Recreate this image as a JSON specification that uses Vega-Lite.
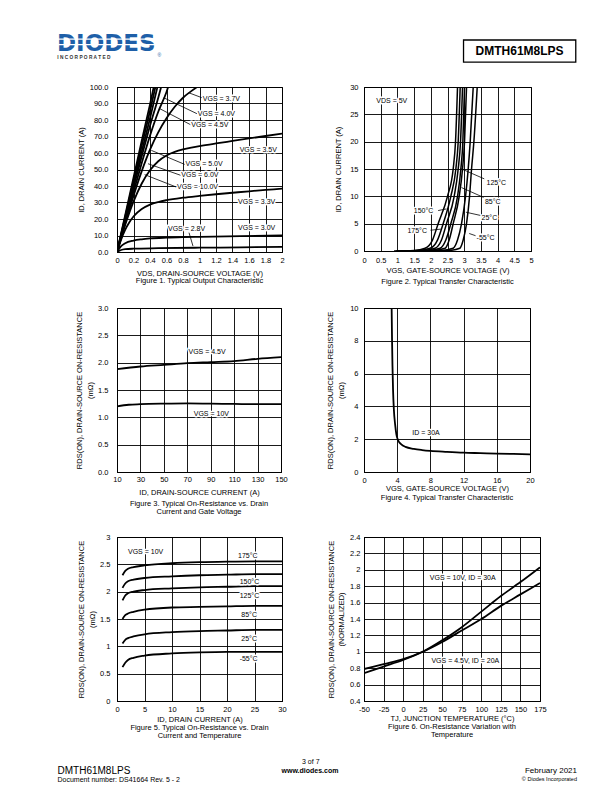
{
"$schema":"https://vega.github.io/schema/vega-lite/v6.json",
"background":"white",
"padding":0,
"autosize":{"type":"pad"},
"bounds":"flush",
"align":"each",
"columns":2,
"spacing":{"row":0,"column":82},
"config":{
 "font":"Liberation Sans",
 "view":{"stroke":null},
 "axis":{"grid":true,"gridColor":"#000","gridOpacity":1,"gridWidth":0.9,"domain":true,"domainColor":"#000","domainWidth":1,"ticks":false,"labelFont":"Liberation Sans","labelFontSize":7.5,"labelColor":"#000","labelPadding":4.5,"labelFlush":false,"labelOverlap":false,"labelBound":false,"titleFont":"Liberation Sans","titleFontSize":7.5,"titleFontWeight":"normal","titleColor":"#000","titleLineHeight":10.7},
 "title":{"font":"Liberation Sans","fontSize":7.5,"fontWeight":"normal","color":"#000","orient":"bottom","anchor":"middle","frame":"group","lineHeight":8}
},
"datasets":{
 "lab1":[
  {"x":1.04,"y":93,"t":"VGS = 3.7V"},
  {"x":0.98,"y":83.8,"t":"VGS = 4.0V"},
  {"x":0.90,"y":77.2,"t":"VGS = 4.5V"},
  {"x":1.487,"y":61.6,"t":"VGS = 3.5V"},
  {"x":0.83,"y":53.1,"t":"VGS = 5.0V"},
  {"x":0.78,"y":46.5,"t":"VGS = 6.0V"},
  {"x":0.727,"y":39.4,"t":"VGS = 10.0V"},
  {"x":1.467,"y":30.3,"t":"VGS = 3.3V"},
  {"x":0.618,"y":14.1,"t":"VGS = 2.8V"},
  {"x":1.467,"y":14.5,"t":"VGS = 3.0V"}
 ],
 "lab2":[
  {"x":0.37,"y":27.4,"t":"VDS = 5V"},
  {"x":3.67,"y":12.4,"t":"125°C"},
  {"x":3.62,"y":9.0,"t":"85°C"},
  {"x":3.52,"y":6.1,"t":"25°C"},
  {"x":3.37,"y":2.4,"t":"-55°C"},
  {"x":1.49,"y":7.3,"t":"150°C"},
  {"x":1.3,"y":3.6,"t":"175°C"}
 ],
 "lab3":[
  {"x":71,"y":2.19,"t":"VGS = 4.5V"},
  {"x":75.5,"y":1.06,"t":"VGS = 10V"}
 ],
 "lab4":[
  {"x":5.82,"y":2.4,"t":"ID = 30A"}
 ],
 "lab5":[
  {"x":2.0,"y":2.73,"t":"VGS = 10V"},
  {"x":22.0,"y":2.65,"t":"175°C"},
  {"x":22.3,"y":2.18,"t":"150°C"},
  {"x":22.3,"y":1.92,"t":"125°C"},
  {"x":22.6,"y":1.57,"t":"85°C"},
  {"x":22.6,"y":1.14,"t":"25°C"},
  {"x":22.3,"y":0.76,"t":"-55°C"}
 ],
 "lab6":[
  {"x":34.1,"y":1.9,"t":"VGS = 10V, ID = 30A"},
  {"x":36.2,"y":0.89,"t":"VGS = 4.5V, ID = 20A"}
 ]
},
"concat":[
 {"width":165,"height":87,
  "encoding":{"x":{"field":"px","type":"quantitative","scale":{"domain":[0.191176,0.460784],"nice":false,"zero":false},"axis":null},"y":{"field":"py","type":"quantitative","scale":{"domain":[0,1],"nice":false,"zero":false,"reverse":true},"axis":null}},
  "layer":[
   {"data":{"values":[{"px":0,"py":0,"px2":1,"py2":1}]},"mark":{"type":"rect","fill":"white"},"encoding":{"x2":{"field":"px2"},"y2":{"field":"py2"}}},
   {"data":{"values":[{"px":0.0931,"py":0.586,"t":"DIODES"}]},"mark":{"type":"text","font":"DejaVu Sans","fontWeight":"bold","fontSize":23,"fill":"#1e5fa8","align":"left","baseline":"alphabetic"},"encoding":{"text":{"field":"t"}}},
   {"data":{"values":[{"px":0.0925,"py":0.449,"px2":0.2555},{"px":0.0925,"py":0.513,"px2":0.2555}]},"mark":{"type":"rule","stroke":"white","strokeWidth":1.2},"encoding":{"x2":{"field":"px2"}}},
   {"data":{"values":[{"px":0.0936,"py":0.667,"t":"I    N    C    O    R    P    O    R    A    T    E    D"}]},"mark":{"type":"text","fontWeight":"bold","fontSize":4.8,"fill":"#333","align":"left","baseline":"middle"},"encoding":{"text":{"field":"t"}}},
   {"data":{"values":[{"px":0.2574,"py":0.629,"t":"®"}]},"mark":{"type":"text","fontSize":5,"fill":"#1e5fa8","align":"left","baseline":"middle"},"encoding":{"text":{"field":"t"}}},
   {"data":{"values":[{"px":0.7574,"py":0.4598,"px2":0.9408,"py2":0.7149}]},"mark":{"type":"rect","fill":null,"stroke":"#000","strokeWidth":1.3},"encoding":{"x2":{"field":"px2"},"y2":{"field":"py2"}}},
   {"data":{"values":[{"px":0.849,"py":0.5897,"t":"DMTH61M8LPS"}]},"mark":{"type":"text","fontWeight":"bold","fontSize":12,"fill":"#000","align":"center","baseline":"middle"},"encoding":{"text":{"field":"t"}}}
  ]},
 {"width":1,"height":1,"mark":"point","data":{"values":[]}},
 {"width":165,"height":165,"view":{"stroke":"#000","strokeWidth":1},
  "title":{"text":"Figure 1. Typical Output Characteristic","offset":0.75},
  "encoding":{
   "x":{"field":"x","type":"quantitative","scale":{"domain":[0,2],"nice":false,"zero":false},"axis":{"title":"VDS, DRAIN-SOURCE VOLTAGE (V)","values":[0,0.2,0.4,0.6,0.8,1,1.2,1.4,1.6,1.8,2],"labelExpr":"'' + datum.value","labelPadding":4.5,"titlePadding":5.2}},
   "y":{"field":"y","type":"quantitative","scale":{"domain":[0,100],"nice":false,"zero":false},"axis":{"title":"ID, DRAIN CURRENT (A)","values":[0,10,20,30,40,50,60,70,80,90,100],"format":".1f","labelPadding":9,"titlePadding":4}}
  },
  "layer":[
   {"data":{"values":[
     {"s":"10","x":0,"y":0},{"s":"10","x":0.1,"y":22.5},{"s":"10","x":0.2,"y":45},{"s":"10","x":0.3,"y":67.5},{"s":"10","x":0.4,"y":89.5},{"s":"10","x":0.445,"y":100},
     {"s":"6","x":0,"y":0},{"s":"6","x":0.1,"y":21.5},{"s":"6","x":0.2,"y":43},{"s":"6","x":0.3,"y":64.5},{"s":"6","x":0.4,"y":85.5},{"s":"6","x":0.465,"y":100},
     {"s":"5","x":0,"y":0},{"s":"5","x":0.1,"y":20.5},{"s":"5","x":0.2,"y":41},{"s":"5","x":0.3,"y":61},{"s":"5","x":0.4,"y":81},{"s":"5","x":0.49,"y":100},
     {"s":"4.5","x":0,"y":0},{"s":"4.5","x":0.1,"y":19.5},{"s":"4.5","x":0.2,"y":39},{"s":"4.5","x":0.3,"y":58},{"s":"4.5","x":0.4,"y":76.5},{"s":"4.5","x":0.5,"y":93.5},{"s":"4.5","x":0.535,"y":100},
     {"s":"4","x":0,"y":0},{"s":"4","x":0.1,"y":18.5},{"s":"4","x":0.2,"y":36.5},{"s":"4","x":0.3,"y":54},{"s":"4","x":0.4,"y":70.5},{"s":"4","x":0.5,"y":85},{"s":"4","x":0.6,"y":97},{"s":"4","x":0.62,"y":100},
     {"s":"3.7","x":0,"y":0},{"s":"3.7","x":0.1,"y":17.5},{"s":"3.7","x":0.2,"y":34},{"s":"3.7","x":0.3,"y":49},{"s":"3.7","x":0.4,"y":62},{"s":"3.7","x":0.5,"y":72.5},{"s":"3.7","x":0.6,"y":81},{"s":"3.7","x":0.7,"y":88},{"s":"3.7","x":0.8,"y":93.5},{"s":"3.7","x":0.9,"y":97.5},{"s":"3.7","x":0.97,"y":100},
     {"s":"3.5","x":0,"y":0},{"s":"3.5","x":0.1,"y":16.5},{"s":"3.5","x":0.2,"y":30.5},{"s":"3.5","x":0.3,"y":41.5},{"s":"3.5","x":0.4,"y":49.5},{"s":"3.5","x":0.5,"y":55},{"s":"3.5","x":0.6,"y":58.5},{"s":"3.5","x":0.7,"y":60.7},{"s":"3.5","x":0.8,"y":62.2},{"s":"3.5","x":0.9,"y":63.3},{"s":"3.5","x":1.0,"y":64.2},{"s":"3.5","x":1.2,"y":65.8},{"s":"3.5","x":1.4,"y":67.3},{"s":"3.5","x":1.6,"y":68.8},{"s":"3.5","x":1.8,"y":70.3},{"s":"3.5","x":2,"y":71.8},
     {"s":"3.3","x":0,"y":0},{"s":"3.3","x":0.05,"y":7.5},{"s":"3.3","x":0.1,"y":13.5},{"s":"3.3","x":0.15,"y":18},{"s":"3.3","x":0.2,"y":21.5},{"s":"3.3","x":0.3,"y":26},{"s":"3.3","x":0.4,"y":28.7},{"s":"3.3","x":0.5,"y":30.3},{"s":"3.3","x":0.6,"y":31.4},{"s":"3.3","x":0.8,"y":32.9},{"s":"3.3","x":1.0,"y":34},{"s":"3.3","x":1.2,"y":35},{"s":"3.3","x":1.4,"y":35.9},{"s":"3.3","x":1.6,"y":36.8},{"s":"3.3","x":1.8,"y":37.6},{"s":"3.3","x":2,"y":38.4},
     {"s":"3.0","x":0,"y":0},{"s":"3.0","x":0.05,"y":3.5},{"s":"3.0","x":0.1,"y":5.3},{"s":"3.0","x":0.2,"y":6.9},{"s":"3.0","x":0.3,"y":7.7},{"s":"3.0","x":0.4,"y":8.2},{"s":"3.0","x":0.6,"y":8.7},{"s":"3.0","x":0.8,"y":9},{"s":"3.0","x":1.0,"y":9.2},{"s":"3.0","x":1.5,"y":9.6},{"s":"3.0","x":2,"y":10},
     {"s":"2.8","x":0,"y":0},{"s":"2.8","x":0.05,"y":1.2},{"s":"2.8","x":0.1,"y":1.7},{"s":"2.8","x":0.2,"y":2.0},{"s":"2.8","x":0.5,"y":2.3},{"s":"2.8","x":1,"y":2.6},{"s":"2.8","x":1.5,"y":2.8},{"s":"2.8","x":2,"y":3.1}
    ]},
    "mark":{"type":"line","color":"#000","strokeWidth":1.8,"interpolate":"monotone","clip":true},
    "encoding":{"detail":{"field":"s"}}},
   {"data":{"values":[
     {"x":1.03,"y":93.5,"x2":0.87,"y2":96.5},
     {"x":0.97,"y":83.8,"x2":0.566,"y2":93.5},
     {"x":0.89,"y":77.2,"x2":0.517,"y2":86.9},
     {"x":0.82,"y":53.1,"x2":0.416,"y2":61.6},
     {"x":0.77,"y":46.5,"x2":0.376,"y2":53.5},
     {"x":0.717,"y":39.4,"x2":0.335,"y2":46.9},
     {"x":0.873,"y":11.7,"x2":0.921,"y2":3.6}
    ]},
    "mark":{"type":"rule","color":"#000","strokeWidth":0.8},
    "encoding":{"x2":{"field":"x2"},"y2":{"field":"y2"}}},
   {"data":{"name":"lab1"},
    "mark":{"type":"text","align":"left","baseline":"middle","fontSize":7,"fill":"#fff","stroke":"#fff","strokeWidth":3,"strokeJoin":"round"},
    "encoding":{"text":{"field":"t"}}},
   {"data":{"name":"lab1"},
    "mark":{"type":"text","align":"left","baseline":"middle","fontSize":7,"fill":"#000"},
    "encoding":{"text":{"field":"t"}}}
  ]},
 {"width":167,"height":164,"view":{"stroke":"#000","strokeWidth":1},
  "title":{"text":"Figure 2. Typical Transfer Characteristic","offset":3.5},
  "encoding":{
   "x":{"field":"x","type":"quantitative","scale":{"domain":[0,5],"nice":false,"zero":false},"axis":{"title":"VGS, GATE-SOURCE VOLTAGE (V)","values":[0,0.5,1,1.5,2,2.5,3,3.5,4,4.5,5],"labelExpr":"'' + datum.value","labelPadding":5.5,"titlePadding":2.5}},
   "y":{"field":"y","type":"quantitative","scale":{"domain":[0,30],"nice":false,"zero":false},"axis":{"title":"ID, DRAIN CURRENT (A)","values":[0,5,10,15,20,25,30],"labelExpr":"'' + datum.value","labelPadding":6,"titlePadding":7.5}}
  },
  "layer":[
   {"data":{"values":[
     {"s":"1","x":0.9,"y":0},{"s":"1","x":1.5,"y":0.1},{"s":"1","x":1.83,"y":0.5},{"s":"1","x":2.05,"y":2},{"s":"1","x":2.22,"y":5},{"s":"1","x":2.5,"y":10},{"s":"1","x":2.67,"y":15},{"s":"1","x":2.74,"y":20},{"s":"1","x":2.8,"y":30},
     {"s":"2","x":0.95,"y":0},{"s":"2","x":1.6,"y":0.1},{"s":"2","x":1.98,"y":0.5},{"s":"2","x":2.2,"y":2},{"s":"2","x":2.37,"y":5},{"s":"2","x":2.6,"y":10},{"s":"2","x":2.75,"y":15},{"s":"2","x":2.82,"y":20},{"s":"2","x":2.88,"y":30},
     {"s":"3","x":1.0,"y":0},{"s":"3","x":1.75,"y":0.1},{"s":"3","x":2.13,"y":0.5},{"s":"3","x":2.32,"y":2},{"s":"3","x":2.47,"y":5},{"s":"3","x":2.7,"y":10},{"s":"3","x":2.82,"y":15},{"s":"3","x":2.89,"y":20},{"s":"3","x":2.95,"y":30},
     {"s":"4","x":1.1,"y":0},{"s":"4","x":1.9,"y":0.1},{"s":"4","x":2.28,"y":0.5},{"s":"4","x":2.45,"y":2},{"s":"4","x":2.6,"y":5},{"s":"4","x":2.8,"y":10},{"s":"4","x":2.9,"y":15},{"s":"4","x":2.96,"y":20},{"s":"4","x":3.01,"y":30},
     {"s":"5","x":1.2,"y":0},{"s":"5","x":2.05,"y":0.1},{"s":"5","x":2.43,"y":0.5},{"s":"5","x":2.55,"y":2},{"s":"5","x":2.67,"y":5},{"s":"5","x":2.85,"y":10},{"s":"5","x":2.95,"y":15},{"s":"5","x":3.01,"y":20},{"s":"5","x":3.07,"y":30},
     {"s":"6","x":1.5,"y":0},{"s":"6","x":2.3,"y":0.1},{"s":"6","x":2.67,"y":0.5},{"s":"6","x":2.8,"y":2},{"s":"6","x":2.92,"y":5},{"s":"6","x":3.04,"y":10},{"s":"6","x":3.12,"y":15},{"s":"6","x":3.18,"y":20},{"s":"6","x":3.27,"y":30},
     {"s":"7","x":1.8,"y":0},{"s":"7","x":2.55,"y":0.1},{"s":"7","x":2.87,"y":0.5},{"s":"7","x":2.97,"y":2},{"s":"7","x":3.07,"y":5},{"s":"7","x":3.16,"y":10},{"s":"7","x":3.22,"y":15},{"s":"7","x":3.29,"y":20},{"s":"7","x":3.39,"y":30}
    ]},
    "mark":{"type":"line","color":"#000","strokeWidth":1.5,"interpolate":"monotone","clip":true},
    "encoding":{"detail":{"field":"s"}}},
   {"data":{"values":[
     {"x":3.6,"y":13.2,"x2":2.89,"y2":15.1},
     {"x":3.58,"y":9.8,"x2":2.92,"y2":11.6},
     {"x":3.49,"y":6.5,"x2":3.05,"y2":7.1},
     {"x":3.34,"y":2.8,"x2":3.15,"y2":3.2},
     {"x":2.22,"y":7.4,"x2":2.47,"y2":7.7},
     {"x":1.99,"y":3.8,"x2":2.3,"y2":4.0}
    ]},
    "mark":{"type":"rule","color":"#000","strokeWidth":0.8},
    "encoding":{"x2":{"field":"x2"},"y2":{"field":"y2"}}},
   {"data":{"name":"lab2"},
    "mark":{"type":"text","align":"left","baseline":"middle","fontSize":7,"fill":"#fff","stroke":"#fff","strokeWidth":3,"strokeJoin":"round"},
    "encoding":{"text":{"field":"t"}}},
   {"data":{"name":"lab2"},
    "mark":{"type":"text","align":"left","baseline":"middle","fontSize":7,"fill":"#000"},
    "encoding":{"text":{"field":"t"}}}
  ]},
 {"width":1,"height":56,"mark":"point","data":{"values":[]}},
 {"width":1,"height":1,"mark":"point","data":{"values":[]}},
 {"width":164,"height":164,"view":{"stroke":"#000","strokeWidth":1},
  "title":{"text":["Figure 3. Typical On-Resistance vs. Drain","Current and Gate Voltage"],"offset":4.3},
  "encoding":{
   "x":{"field":"x","type":"quantitative","scale":{"domain":[10,150],"nice":false,"zero":false},"axis":{"title":"ID, DRAIN-SOURCE CURRENT (A)","values":[10,30,50,70,90,110,130,150],"labelExpr":"'' + datum.value","labelPadding":3.75,"titlePadding":5.2}},
   "y":{"field":"y","type":"quantitative","scale":{"domain":[0,3],"nice":false,"zero":false},"axis":{"title":["RDS(ON), DRAIN-SOURCE ON-RESISTANCE","(mΩ)"],"values":[0,0.5,1,1.5,2,2.5,3],"format":".1f","labelPadding":9,"titlePadding":3.4}}
  },
  "layer":[
   {"data":{"values":[
     {"s":"4.5V","x":10,"y":1.88},{"s":"4.5V","x":30,"y":1.93},{"s":"4.5V","x":50,"y":1.96},{"s":"4.5V","x":70,"y":1.99},{"s":"4.5V","x":90,"y":2.01},{"s":"4.5V","x":110,"y":2.03},{"s":"4.5V","x":130,"y":2.07},{"s":"4.5V","x":150,"y":2.1},
     {"s":"10V","x":10,"y":1.2},{"s":"10V","x":20,"y":1.23},{"s":"10V","x":30,"y":1.24},{"s":"10V","x":50,"y":1.25},{"s":"10V","x":70,"y":1.255},{"s":"10V","x":90,"y":1.25},{"s":"10V","x":110,"y":1.245},{"s":"10V","x":130,"y":1.24},{"s":"10V","x":150,"y":1.24}
    ]},
    "mark":{"type":"line","color":"#000","strokeWidth":1.8,"interpolate":"monotone","clip":true},
    "encoding":{"detail":{"field":"s"}}},
   {"data":{"name":"lab3"},
    "mark":{"type":"text","align":"left","baseline":"middle","fontSize":7,"fill":"#fff","stroke":"#fff","strokeWidth":3,"strokeJoin":"round"},
    "encoding":{"text":{"field":"t"}}},
   {"data":{"name":"lab3"},
    "mark":{"type":"text","align":"left","baseline":"middle","fontSize":7,"fill":"#000"},
    "encoding":{"text":{"field":"t"}}}
  ]},
 {"width":166,"height":164,"view":{"stroke":"#000","strokeWidth":1},
  "title":{"text":"Figure 4. Typical Transfer Characteristic","offset":1.5},
  "encoding":{
   "x":{"field":"x","type":"quantitative","scale":{"domain":[0,20],"nice":false,"zero":false},"axis":{"title":"VGS, GATE-SOURCE VOLTAGE (V)","values":[0,4,8,12,16,20],"labelExpr":"'' + datum.value","labelPadding":4,"titlePadding":1}},
   "y":{"field":"y","type":"quantitative","scale":{"domain":[0,10],"nice":false,"zero":false},"axis":{"title":["RDS(ON), DRAIN-SOURCE ON-RESISTANCE","(mΩ)"],"values":[0,2,4,6,8,10],"labelExpr":"'' + datum.value","labelPadding":6,"titlePadding":4.5}}
  },
  "layer":[
   {"data":{"values":[
     {"s":"30A","x":3.33,"y":10},{"s":"30A","x":3.38,"y":8},{"s":"30A","x":3.43,"y":6.5},{"s":"30A","x":3.5,"y":5},{"s":"30A","x":3.6,"y":3.8},{"s":"30A","x":3.75,"y":2.9},{"s":"30A","x":3.9,"y":2.3},{"s":"30A","x":4.1,"y":1.95},{"s":"30A","x":4.5,"y":1.68},{"s":"30A","x":5,"y":1.53},{"s":"30A","x":6,"y":1.41},{"s":"30A","x":7,"y":1.34},{"s":"30A","x":8,"y":1.29},{"s":"30A","x":10,"y":1.23},{"s":"30A","x":12,"y":1.18},{"s":"30A","x":14,"y":1.15},{"s":"30A","x":16,"y":1.12},{"s":"30A","x":18,"y":1.1},{"s":"30A","x":20,"y":1.08}
    ]},
    "mark":{"type":"line","color":"#000","strokeWidth":1.8,"interpolate":"monotone","clip":true},
    "encoding":{"detail":{"field":"s"}}},
   {"data":{"name":"lab4"},
    "mark":{"type":"text","align":"left","baseline":"middle","fontSize":7,"fill":"#fff","stroke":"#fff","strokeWidth":3,"strokeJoin":"round"},
    "encoding":{"text":{"field":"t"}}},
   {"data":{"name":"lab4"},
    "mark":{"type":"text","align":"left","baseline":"middle","fontSize":7,"fill":"#000"},
    "encoding":{"text":{"field":"t"}}}
  ]},
 {"width":1,"height":65,"mark":"point","data":{"values":[]}},
 {"width":1,"height":1,"mark":"point","data":{"values":[]}},
 {"width":165,"height":164,"view":{"stroke":"#000","strokeWidth":1},
  "title":{"text":["Figure 5. Typical On-Resistance vs. Drain","Current and Temperature"],"offset":1.5},
  "encoding":{
   "x":{"field":"x","type":"quantitative","scale":{"domain":[0,30],"nice":false,"zero":false},"axis":{"title":"ID, DRAIN CURRENT (A)","values":[0,5,10,15,20,25,30],"labelExpr":"'' + datum.value","labelPadding":4.4,"titlePadding":2.5}},
   "y":{"field":"y","type":"quantitative","scale":{"domain":[0,3],"nice":false,"zero":false},"axis":{"title":["RDS(ON), DRAIN-SOURCE ON-RESISTANCE","(mΩ)"],"values":[0,0.5,1,1.5,2,2.5,3],"labelExpr":"'' + datum.value","labelPadding":7,"titlePadding":3.4}}
  },
  "layer":[
   {"data":{"values":[
     {"s":"175","x":1,"y":2.3},{"s":"175","x":1.5,"y":2.38},{"s":"175","x":2,"y":2.42},{"s":"175","x":3,"y":2.45},{"s":"175","x":5,"y":2.48},{"s":"175","x":10,"y":2.52},{"s":"175","x":15,"y":2.54},{"s":"175","x":20,"y":2.55},{"s":"175","x":25,"y":2.555},{"s":"175","x":30,"y":2.555},
     {"s":"150","x":1,"y":2.07},{"s":"150","x":1.5,"y":2.15},{"s":"150","x":2,"y":2.19},{"s":"150","x":3,"y":2.22},{"s":"150","x":5,"y":2.25},{"s":"150","x":10,"y":2.28},{"s":"150","x":15,"y":2.3},{"s":"150","x":20,"y":2.31},{"s":"150","x":25,"y":2.32},{"s":"150","x":30,"y":2.32},
     {"s":"125","x":1,"y":1.84},{"s":"125","x":1.5,"y":1.93},{"s":"125","x":2,"y":1.97},{"s":"125","x":3,"y":2.0},{"s":"125","x":5,"y":2.03},{"s":"125","x":10,"y":2.06},{"s":"125","x":15,"y":2.08},{"s":"125","x":20,"y":2.09},{"s":"125","x":25,"y":2.1},{"s":"125","x":30,"y":2.1},
     {"s":"85","x":1,"y":1.5},{"s":"85","x":1.5,"y":1.57},{"s":"85","x":2,"y":1.6},{"s":"85","x":3,"y":1.63},{"s":"85","x":5,"y":1.67},{"s":"85","x":10,"y":1.71},{"s":"85","x":15,"y":1.72},{"s":"85","x":20,"y":1.73},{"s":"85","x":25,"y":1.74},{"s":"85","x":30,"y":1.74},
     {"s":"25","x":1,"y":1.05},{"s":"25","x":1.5,"y":1.12},{"s":"25","x":2,"y":1.15},{"s":"25","x":3,"y":1.18},{"s":"25","x":5,"y":1.22},{"s":"25","x":10,"y":1.26},{"s":"25","x":15,"y":1.28},{"s":"25","x":20,"y":1.29},{"s":"25","x":25,"y":1.3},{"s":"25","x":30,"y":1.3},
     {"s":"-55","x":1,"y":0.62},{"s":"-55","x":1.5,"y":0.7},{"s":"-55","x":2,"y":0.75},{"s":"-55","x":3,"y":0.79},{"s":"-55","x":5,"y":0.83},{"s":"-55","x":10,"y":0.87},{"s":"-55","x":15,"y":0.89},{"s":"-55","x":20,"y":0.9},{"s":"-55","x":25,"y":0.9},{"s":"-55","x":30,"y":0.9}
    ]},
    "mark":{"type":"line","color":"#000","strokeWidth":1.8,"interpolate":"monotone","clip":true},
    "encoding":{"detail":{"field":"s"}}},
   {"data":{"name":"lab5"},
    "mark":{"type":"text","align":"left","baseline":"middle","fontSize":7,"fill":"#fff","stroke":"#fff","strokeWidth":3,"strokeJoin":"round"},
    "encoding":{"text":{"field":"t"}}},
   {"data":{"name":"lab5"},
    "mark":{"type":"text","align":"left","baseline":"middle","fontSize":7,"fill":"#000"},
    "encoding":{"text":{"field":"t"}}}
  ]},
 {"width":176,"height":164,"view":{"stroke":"#000","strokeWidth":1},
  "title":{"text":["Figure 6. On-Resistance Variation with","Temperature"],"offset":1.5},
  "encoding":{
   "x":{"field":"x","type":"quantitative","scale":{"domain":[-50,175],"nice":false,"zero":false},"axis":{"title":"TJ, JUNCTION TEMPERATURE (°C)","values":[-50,-25,0,25,50,75,100,125,150,175],"labelExpr":"'' + datum.value","labelPadding":4.75,"titlePadding":1.2}},
   "y":{"field":"y","type":"quantitative","scale":{"domain":[0.4,2.4],"nice":false,"zero":false},"axis":{"title":["RDS(ON), DRAIN-SOURCE ON-RESISTANCE","(NORMALIZED)"],"values":[0.4,0.6,0.8,1,1.2,1.4,1.6,1.8,2,2.2,2.4],"labelExpr":"'' + datum.value","labelPadding":4,"titlePadding":3.7}}
  },
  "layer":[
   {"data":{"values":[
     {"s":"10V","x":-50,"y":0.74},{"s":"10V","x":-25,"y":0.82},{"s":"10V","x":0,"y":0.9},{"s":"10V","x":25,"y":1.0},{"s":"10V","x":50,"y":1.14},{"s":"10V","x":75,"y":1.3},{"s":"10V","x":100,"y":1.49},{"s":"10V","x":125,"y":1.68},{"s":"10V","x":150,"y":1.85},{"s":"10V","x":175,"y":2.03},
     {"s":"4.5V","x":-50,"y":0.79},{"s":"4.5V","x":-25,"y":0.85},{"s":"4.5V","x":0,"y":0.91},{"s":"4.5V","x":25,"y":1.0},{"s":"4.5V","x":50,"y":1.12},{"s":"4.5V","x":75,"y":1.26},{"s":"4.5V","x":100,"y":1.4},{"s":"4.5V","x":125,"y":1.56},{"s":"4.5V","x":150,"y":1.7},{"s":"4.5V","x":175,"y":1.84}
    ]},
    "mark":{"type":"line","color":"#000","strokeWidth":1.8,"interpolate":"monotone","clip":true},
    "encoding":{"detail":{"field":"s"}}},
   {"data":{"name":"lab6"},
    "mark":{"type":"text","align":"left","baseline":"middle","fontSize":7,"fill":"#fff","stroke":"#fff","strokeWidth":3,"strokeJoin":"round"},
    "encoding":{"text":{"field":"t"}}},
   {"data":{"name":"lab6"},
    "mark":{"type":"text","align":"left","baseline":"middle","fontSize":7,"fill":"#000"},
    "encoding":{"text":{"field":"t"}}}
  ]},
 {"width":1,"height":57,"mark":"point","data":{"values":[]}},
 {"width":1,"height":1,"mark":"point","data":{"values":[]}},
 {"width":165,"height":34,
  "encoding":{"x":{"field":"px","type":"quantitative","scale":{"domain":[0.191176,0.460784],"nice":false,"zero":false},"axis":null},"y":{"field":"py","type":"quantitative","scale":{"domain":[0,1],"nice":false,"zero":false,"reverse":true},"axis":null}},
  "layer":[
   {"data":{"values":[{"px":0,"py":0,"px2":1,"py2":1}]},"mark":{"type":"rect","fill":"white"},"encoding":{"x2":{"field":"px2"},"y2":{"field":"py2"}}},
   {"data":{"values":[{"px":0.094,"py":0.368,"t":"DMTH61M8LPS"}]},"mark":{"type":"text","fontSize":10,"fill":"#000","align":"left","baseline":"middle"},"encoding":{"text":{"field":"t"}}},
   {"data":{"values":[{"px":0.094,"py":0.635,"t":"Document number: DS41664 Rev. 5 - 2"}]},"mark":{"type":"text","fontSize":7,"fill":"#000","align":"left","baseline":"middle"},"encoding":{"text":{"field":"t"}}},
   {"data":{"values":[{"px":0.5078,"py":0.118,"t":"3 of 7"}]},"mark":{"type":"text","fontSize":7,"fill":"#000","align":"center","baseline":"middle"},"encoding":{"text":{"field":"t"}}},
   {"data":{"values":[{"px":0.5065,"py":0.391,"t":"www.diodes.com"}]},"mark":{"type":"text","fontSize":7,"fontWeight":"bold","fill":"#000","align":"center","baseline":"middle"},"encoding":{"text":{"field":"t"}}},
   {"data":{"values":[{"px":0.9428,"py":0.368,"t":"February 2021"}]},"mark":{"type":"text","fontSize":8,"fill":"#000","align":"right","baseline":"middle"},"encoding":{"text":{"field":"t"}}},
   {"data":{"values":[{"px":0.9428,"py":0.632,"t":"© Diodes Incorporated"}]},"mark":{"type":"text","fontSize":5.5,"fill":"#000","align":"right","baseline":"middle"},"encoding":{"text":{"field":"t"}}}
  ]},
 {"width":1,"height":1,"mark":"point","data":{"values":[]}}
]
}
